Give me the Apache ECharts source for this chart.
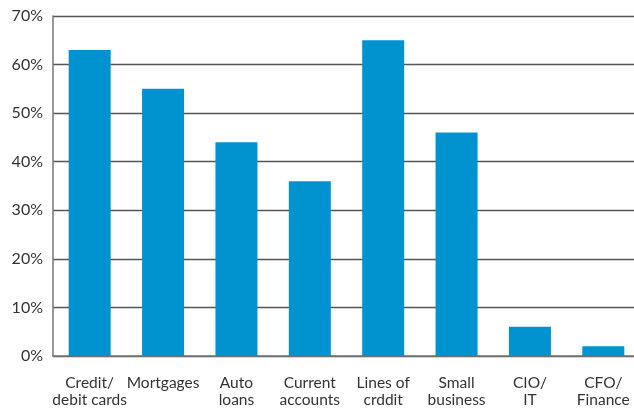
<!DOCTYPE html>
<html>
<head>
<meta charset="utf-8">
<script src="https://cdn.jsdelivr.net/npm/echarts@6/dist/echarts.min.js"></script>
<style>
  html, body { margin: 0; padding: 0; background: #fff; overflow: hidden; }
  #chart { width: 640px; height: 408px; }
</style>
</head>
<body>
<div id="chart"></div>
<script>
// Share of respondents by area
const categories = ['Credit/\ndebit cards', 'Mortgages', 'Auto\nloans', 'Current\naccounts', 'Lines of\ncrddit', 'Small\nbusiness', 'CIO/\nIT', 'CFO/\nFinance'];
const values = [63, 55, 44, 36, 65, 46, 6, 2];
const yTicks = [0, 10, 20, 30, 40, 50, 60, 70];

const font = 'Lato, "Open Sans", sans-serif';
const chart = echarts.init(document.getElementById('chart'));
chart.setOption({
  animation: false,
  grid: { left: 53, right: 0, top: 16, bottom: 51, containLabel: false },
  xAxis: {
    type: 'category',
    data: categories,
    axisLine: { show: true, lineStyle: { color: '#777', width: 1.5 } },
    axisTick: { show: false },
    axisLabel: { color: '#333', fontSize: 15.5, fontFamily: font, lineHeight: 17, margin: 18, interval: 0 }
  },
  yAxis: {
    type: 'value',
    min: yTicks[0],
    max: yTicks[yTicks.length - 1],
    interval: 10,
    axisLine: { show: true, lineStyle: { color: '#777', width: 1.5 } },
    axisTick: { show: false },
    splitLine: { show: true, lineStyle: { color: '#555', width: 1.3 } },
    axisLabel: { color: '#333', fontSize: 16, fontFamily: font, margin: 10, formatter: v => v + '%' }
  },
  series: [{
    type: 'bar',
    data: values,
    barWidth: 42,
    itemStyle: { color: '#0093D0' }
  }]
});
</script>
</body>
</html>
